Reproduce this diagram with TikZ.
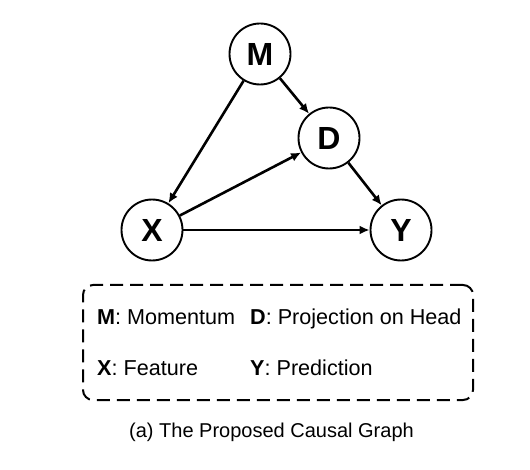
\documentclass[tikz,border=0pt]{standalone}
\usepackage{fontspec}
\setmainfont{Liberation Sans}
\usetikzlibrary{arrows.meta}
\begin{document}
\begin{tikzpicture}[x=1pt,y=1pt,
  var/.style={circle,draw,line width=1.9pt,minimum size=61pt,inner sep=0pt,font=\fontsize{32}{32}\selectfont\bfseries},
  edge/.style={line width=2.6pt,-{Latex[length=10pt,width=9pt]}},
  legtext/.style={anchor=base west,inner sep=0pt,font=\fontsize{21.6}{24}\selectfont}]
\useasboundingbox (0,0) rectangle (530,469);
\node[var] (M) at (260,415) {M};
\node[var] (D) at (329,331) {D};
\node[var] (X) at (152,239) {X};
\node[var] (Y) at (401,239) {Y};
\draw[edge] (M) -- (X);
\draw[edge] (M) -- (D);
\draw[edge] (X) -- (D);
\draw[edge] (D) -- (Y);
\draw[edge] (X) -- (Y);
\node[draw,dashed,dash pattern=on 13pt off 7pt,line width=2pt,rounded corners=10pt,minimum width=390pt,minimum height=115pt,inner sep=0pt] (legend) at (278,126.5) {};
\node[legtext] (lm) at (97,145) {\textbf{M}: Momentum};
\node[legtext] (ld) at (250,145) {\textbf{D}: Projection on Head};
\node[legtext] (lx) at (97,94) {\textbf{X}: Feature};
\node[legtext] (ly) at (250,94) {\textbf{Y}: Prediction};
\node[anchor=base,inner sep=0pt,font=\fontsize{20}{22}\selectfont] (cap) at (271.5,32) {(a) The Proposed Causal Graph};
\end{tikzpicture}
\end{document}
